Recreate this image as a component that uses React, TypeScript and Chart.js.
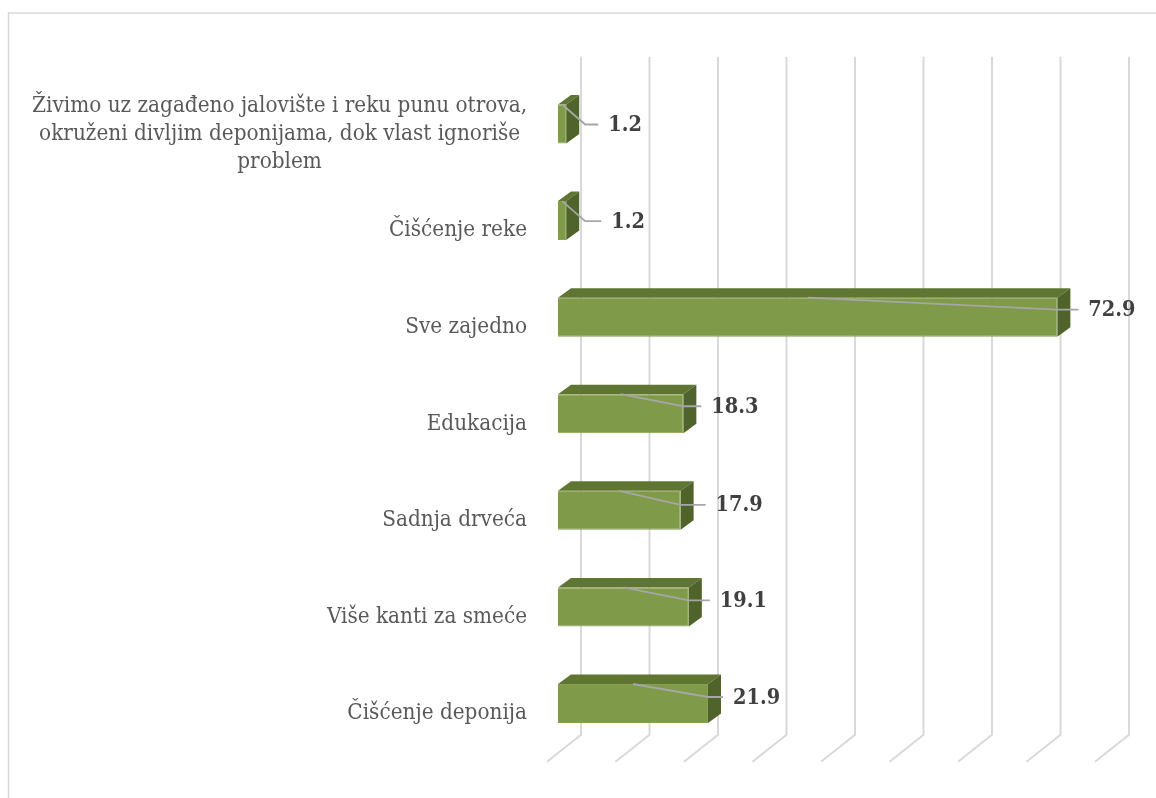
import React, { useEffect, useRef } from "react";
import { Chart, registerables } from "chart.js";

Chart.register(...registerables);

const categories: string[][] = [
  ["Živimo uz zagađeno jalovište i reku punu otrova,", "okruženi divljim deponijama, dok vlast ignoriše", "problem"],
  ["Čišćenje reke"],
  ["Sve zajedno"],
  ["Edukacija"],
  ["Sadnja drveća"],
  ["Više kanti za smeće"],
  ["Čišćenje deponija"],
];
const values: number[] = [1.2, 1.2, 72.9, 18.3, 17.9, 19.1, 21.9];
const axisMax = 80;
const axisStep = 10;

// Manual data-label placement, relative to each bar's end and top edge
const labelGapX: number[] = [42, 45, 31, 28, 35, 31, 25];
const labelDropY: number[] = [20, 20, 12, 12, 14, 13, 13];

const GRID = "#d9d9d9";
const LEADER = "#a6a6a6";
const TEXT = "#595959";
const LABEL = "#404040";
const FONT = '"DejaVu Serif Condensed", "DejaVu Serif", serif';
const DX = 13;
const DY = 9.5;

const polygon = (ctx: CanvasRenderingContext2D, pts: number[][], fill: string) => {
  ctx.beginPath();
  pts.forEach(([x, y], i) => (i ? ctx.lineTo(x, y) : ctx.moveTo(x, y)));
  ctx.closePath();
  ctx.fillStyle = fill;
  ctx.fill();
};

const bars3d = {
  id: "bars3d",
  beforeDatasetsDraw(chart: any) {
    const { ctx, scales } = chart;
    const area = chart.chartArea;
    ctx.save();
    // frame
    ctx.strokeStyle = GRID;
    ctx.lineWidth = 1.5;
    ctx.strokeRect(8.5, 13, 1400, 1000);
    // back-wall gridlines and floor strokes
    ctx.strokeStyle = GRID;
    ctx.lineWidth = 2;
    scales.x.ticks.forEach((t: any) => {
      const x = scales.x.getPixelForValue(t.value) + 23;
      ctx.beginPath();
      ctx.moveTo(x, area.top - 19);
      ctx.lineTo(x, area.bottom - 17);
      ctx.lineTo(x - 34, area.bottom + 10);
      ctx.stroke();
    });
    chart.getDatasetMeta(0).data.forEach((bar: any) => {
      const top = bar.y - bar.height / 2;
      const bottom = bar.y + bar.height / 2;
      polygon(ctx, [[bar.base, top], [bar.base + DX, top - DY], [bar.x + DX, top - DY], [bar.x, top]], "#5f7532");
      polygon(ctx, [[bar.x, top], [bar.x + DX, top - DY], [bar.x + DX, bottom - DY], [bar.x, bottom]], "#50632b");
    });
    ctx.restore();
  },
  afterDatasetsDraw(chart: any) {
    const { ctx, scales } = chart;
    ctx.save();
    // category labels: single lines flush right, wrapped labels centred as a block
    ctx.font = `22.3px ${FONT}`;
    ctx.fillStyle = TEXT;
    ctx.textBaseline = "middle";
    const right = 527;
    categories.forEach((lines, i) => {
      const yc = scales.y.getPixelForValue(i) + 10;
      const widest = Math.max(...lines.map((l) => ctx.measureText(l).width));
      lines.forEach((line, j) => {
        const y = yc + (j - (lines.length - 1) / 2) * 28;
        if (lines.length > 1) {
          ctx.textAlign = "center";
          ctx.fillText(line, right - widest / 2, y);
        } else {
          ctx.textAlign = "right";
          ctx.fillText(line, right, y);
        }
      });
    });
    // leader lines and value labels
    chart.getDatasetMeta(0).data.forEach((bar: any, i: number) => {
      const top = bar.y - bar.height / 2;
      const labelX = bar.x + labelGapX[i];
      const y = top + labelDropY[i];
      const thin = bar.x - bar.base < 20;
      ctx.strokeStyle = LEADER;
      ctx.lineWidth = 1.8;
      ctx.beginPath();
      ctx.moveTo((bar.base + bar.x) / 2, top);
      ctx.lineTo(bar.x + (thin ? 19 : 0), y);
      ctx.lineTo(labelX - 10, y);
      ctx.stroke();
      ctx.font = `bold 21.5px ${FONT}`;
      ctx.fillStyle = LABEL;
      ctx.textAlign = "left";
      ctx.fillText(values[i].toFixed(1), labelX, y + 1);
    });
    ctx.restore();
  },
};

export default function App() {
  const ref = useRef<HTMLCanvasElement>(null);
  useEffect(() => {
    const chart = new Chart(ref.current!, {
      type: "bar",
      data: {
        labels: categories.map((c) => c.join(" ")),
        datasets: [
          {
            data: values,
            backgroundColor: "#7f9a48",
            borderColor: "#86a04f",
            borderWidth: 1,
            barPercentage: 0.404,
            categoryPercentage: 1,
          },
        ],
      },
      options: {
        indexAxis: "y",
        animation: false,
        responsive: false,
        layout: { padding: { left: 558, right: 50, top: 75.7, bottom: 46.2 } },
        plugins: { legend: { display: false }, tooltip: { enabled: false } },
        scales: {
          x: { display: false, min: 0, max: axisMax, ticks: { stepSize: axisStep } },
          y: { display: false },
        },
      },
      plugins: [bars3d],
    });
    return () => chart.destroy();
  }, []);
  return (
    <canvas
      ref={ref}
      width={1156}
      height={798}
      style={{ position: "absolute", left: 0, top: 0, background: "#fff" }}
    />
  );
}
